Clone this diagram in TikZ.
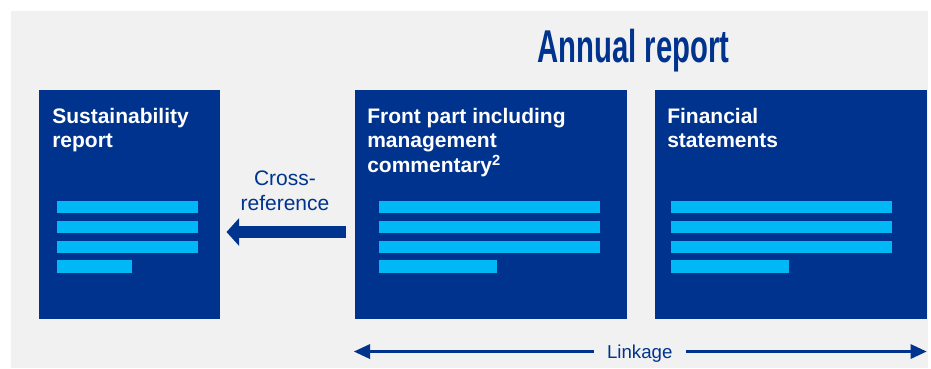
\documentclass[tikz,border=0pt]{standalone}
\usepackage{fontspec}
\setmainfont{Liberation Sans}
\usetikzlibrary{arrows.meta,calc}
\definecolor{kblue}{HTML}{00338D}
\definecolor{kcyan}{HTML}{00B8F5}
\definecolor{kgray}{HTML}{F1F1F1}
\begin{document}
\begin{tikzpicture}[x=0.75pt,y=-0.75pt,
  docbox/.style={fill=kblue, draw=none, anchor=north west, inner sep=0pt,
    minimum height=229*0.75pt},
  boxtitle/.style={anchor=base west, inner sep=0pt, text=white,
    font=\fontsize{15.75pt}{18.4pt}\selectfont\bfseries},
  bluetext/.style={inner sep=0pt, text=kblue},
  bar/.style={fill=kcyan},
  xref/.style={kblue, line width=9pt,
    -{Triangle[length=9.5pt,width=21pt,line width=0pt]}},
  linkarrow/.style={kblue, line width=1.7pt,
    -{Triangle[length=12pt,width=11.25pt,line width=0pt]}}
]
\useasboundingbox (0,0) rectangle (931,368);
\fill[white] (0,0) rectangle (931,368);
\fill[kgray] (11,11) rectangle (928,368);

% title
\node[bluetext, anchor=base west, font=\fontsize{34.5pt}{40pt}\selectfont\bfseries]
  (ar) at (537,62) {\scalebox{0.637}[1]{Annual report}};

% boxes
\node[docbox, minimum width=181*0.75pt] (b1) at (39,90) {};
\node[docbox, minimum width=272*0.75pt] (b2) at (355,90) {};
\node[docbox, minimum width=272*0.75pt] (b3) at (655,90) {};

\node[boxtitle] (t1) at ($(b1.north west)+(13,33)$)
  {\parbox[t]{150pt}{Sustainability\\report}};
\node[boxtitle] (t2) at ($(b2.north west)+(12,33)$)
  {\parbox[t]{200pt}{Front part including\\management\\commentary\textsuperscript{2}}};
\node[boxtitle] (t3) at ($(b3.north west)+(12,33)$)
  {\parbox[t]{200pt}{Financial\\statements}};

% bars
\foreach \dy/\w/\h in {111/141/12, 131/141/12, 151/141/12, 170/75/13}
  \fill[bar] ($(b1.north west)+(18,\dy)$) rectangle +(\w,\h);
\foreach \dy/\w/\h in {111/221/12, 131/221/12, 151/221/12, 170/118/13}
  \fill[bar] ($(b2.north west)+(24,\dy)$) rectangle +(\w,\h);
\foreach \dy/\w/\h in {111/221/12, 131/221/12, 151/221/12, 170/118/13}
  \fill[bar] ($(b3.north west)+(16,\dy)$) rectangle +(\w,\h);

% cross-reference
\node[bluetext, anchor=base, font=\fontsize{15.75pt}{18.75pt}\selectfont]
  (xt) at (285,185) {\parbox[t]{100pt}{\centering Cross-\\reference}};
\coordinate (xs) at ($(b2.north west)+(-9,142)$);
\coordinate (xe) at ($(b1.north east)+(6,142)$);
\draw[xref] (xs) -- (xe);

% linkage
\node[bluetext, anchor=base, inner xsep=9.9pt, inner ysep=0pt,
  font=\fontsize{14pt}{16pt}\selectfont] (lk) at (639.7,358.3) {Linkage};
\coordinate (la) at ($(b2.south west)+(-1,32)$);
\coordinate (lb) at ($(b3.south east)+(-1,32)$);
\draw[linkarrow] (lk.west |- la) -- (la);
\draw[linkarrow] (lk.east |- lb) -- (lb);
\end{tikzpicture}
\end{document}
